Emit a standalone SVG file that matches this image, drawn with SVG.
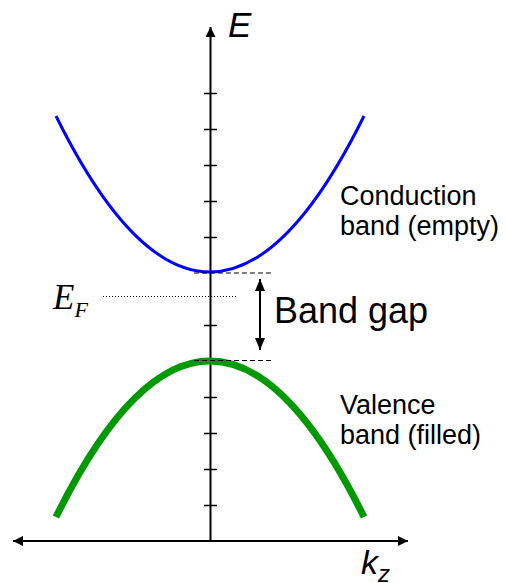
<svg xmlns="http://www.w3.org/2000/svg" width="505" height="583" viewBox="0 0 505 583">
<defs>
<marker id="ah" viewBox="0 0 10 10" refX="10" refY="5" markerWidth="10" markerHeight="10" markerUnits="userSpaceOnUse" orient="auto-start-reverse">
<path d="M0,0 L10,5 L0,10 z" fill="#000"/>
</marker>
<marker id="ah2" viewBox="0 0 12 10" refX="12" refY="5" markerWidth="12" markerHeight="10" markerUnits="userSpaceOnUse" orient="auto-start-reverse">
<path d="M0,0 L12,5 L0,10 z" fill="#000"/>
</marker>
</defs>
<style>
.ax{stroke:#000;stroke-width:2;fill:none}
.tk{stroke:#000;stroke-width:1.5}
.dash{stroke:#000;stroke-width:1.2;stroke-dasharray:5,3;fill:none}
.lbl{font-family:"Liberation Sans",Arial,sans-serif;font-size:27px;fill:#000}
</style>
<rect width="505" height="583" fill="#fff"/>
<g id="axes">
<line class="ax" x1="210.5" y1="541" x2="210.5" y2="27" marker-end="url(#ah)"/>
<line class="ax" x1="13" y1="541" x2="408" y2="541" marker-start="url(#ah)" marker-end="url(#ah)"/>
<g class="tk">
<line x1="204" y1="93.5" x2="217" y2="93.5"/>
<line x1="204" y1="129.5" x2="217" y2="129.5"/>
<line x1="204" y1="165.5" x2="217" y2="165.5"/>
<line x1="204" y1="201.5" x2="217" y2="201.5"/>
<line x1="204" y1="237.5" x2="217" y2="237.5"/>
<line x1="204" y1="325.5" x2="217" y2="325.5"/>
<line x1="204" y1="397.5" x2="217" y2="397.5"/>
<line x1="204" y1="433.5" x2="217" y2="433.5"/>
<line x1="204" y1="469.5" x2="217" y2="469.5"/>
<line x1="204" y1="505.5" x2="217" y2="505.5"/>
</g>
<text x="228" y="37" font-family="Liberation Sans,Arial,sans-serif" font-style="italic" font-size="35">E</text>
<text x="361" y="574" font-family="Liberation Sans,Arial,sans-serif" font-style="italic" font-size="34">k<tspan font-size="24" dy="8">z</tspan></text>
</g>
<g id="conduction">
<path d="M56,116 Q210,428 364,116" fill="none" stroke="#0000ff" stroke-width="3"/>
<text class="lbl" x="340" y="205">Conduction</text>
<text class="lbl" x="340" y="235">band (empty)</text>
</g>
<g id="valence">
<path d="M56,517 Q210,205 364,517" fill="none" stroke="#009900" stroke-width="7"/>
<text class="lbl" x="340" y="414">Valence</text>
<text class="lbl" x="340" y="444">band (filled)</text>
</g>
<g id="fermi">
<line x1="103" y1="296.5" x2="237" y2="296.5" stroke="#000" stroke-width="1" stroke-dasharray="1,2"/>
<text x="53" y="309" font-family="Liberation Serif,'Times New Roman',serif" font-style="italic" font-size="35">E<tspan font-size="22" dy="8">F</tspan></text>
</g>
<g id="gap">
<line class="dash" x1="194" y1="273" x2="273" y2="273"/>
<line class="dash" x1="194" y1="360.5" x2="273" y2="360.5"/>
<line x1="260" y1="279" x2="260" y2="350" stroke="#000" stroke-width="2" marker-start="url(#ah2)" marker-end="url(#ah2)"/>
<text x="274" y="323" font-family="Liberation Sans,Arial,sans-serif" font-size="36">Band gap</text>
</g>
</svg>
